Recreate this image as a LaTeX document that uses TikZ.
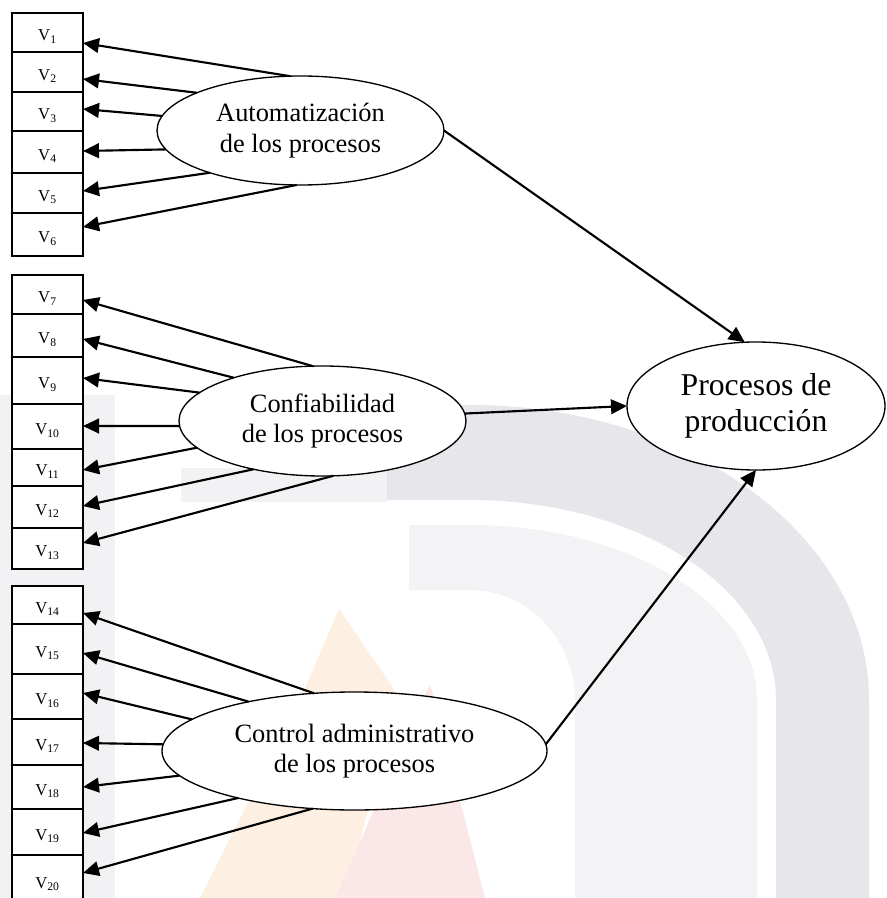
\documentclass[tikz,border=0pt]{standalone}
\usepackage{fontspec}
\setmainfont{Liberation Serif}
\usetikzlibrary{shapes.geometric,arrows.meta,calc}
\definecolor{wmgray}{HTML}{E7E7EB}
\definecolor{wmlight}{HTML}{F3F3F6}
\definecolor{wmside}{HTML}{F2F2F5}
\definecolor{wmorange}{HTML}{FDF0E2}
\definecolor{wmpink}{HTML}{FBE7E8}
% label of an indicator box, set a little below the middle
\newcommand{\vlab}[1]{\raisebox{-3pt}[\height][\depth]{V\textsubscript{#1}}}
\begin{document}
\begin{tikzpicture}[x=0.75pt,y=-0.75pt,
  vbox/.style={draw, rectangle, line width=1.2pt, fill=white, inner sep=0pt,
    outer sep=0pt, minimum width=71*0.75pt, font=\fontsize{12.5}{14}\selectfont},
  latent/.style={ellipse, draw, line width=1pt, fill=white, inner sep=0pt,
    outer sep=0pt, align=center, font=\fontsize{19.8}{23}\selectfont},
  arr/.style={line width=1.6pt, -{Triangle[length=12pt,width=11pt]}}]

\clip (0,0) rectangle (887,898);
\fill[white] (0,0) rectangle (887,898);

% faint watermark in the background
\fill[wmside] (0,395) rectangle (115,898);
\fill[wmside] (181,468) rectangle (387,502);
\fill[wmgray] (387,405) -- (470,405)
  arc[start angle=-90, end angle=0, x radius=399, y radius=295]
  -- (869,898) -- (776,898) -- (776,700)
  arc[start angle=0, end angle=-90, x radius=306, y radius=200]
  -- (387,500) -- cycle;
\fill[wmlight] (409,525) -- (470,525)
  arc[start angle=-90, end angle=0, x radius=287, y radius=175]
  -- (757,898) -- (575,898) -- (575,700)
  arc[start angle=0, end angle=-90, x radius=105, y radius=110]
  -- (409,590) -- cycle;
\fill[wmorange] (339,609) -- (398,695) -- (345,898) -- (200,898) -- (300,700) -- cycle;
\fill[wmpink] (430,684) -- (485,898) -- (335,898) -- cycle;

% indicator boxes V1 ... V20
\foreach \n/\c/\h in {1/32.5/39, 2/72/40, 3/111.5/39, 4/152/42, 5/193/40,
    6/234.5/43, 7/294.5/39, 8/335.5/43, 9/380.5/47, 10/426.5/45,
    11/467.5/37, 12/507/42, 13/548.5/41, 14/605/38, 15/649/50,
    16/696.5/45, 17/742/46, 18/787/44, 19/832/46, 20/880/50}
  \node[vbox, minimum height=\h*0.75pt] (v\n) at (47.5,\c) {\vlab{\n}};

% latent constructs
\node[latent, minimum width=287*0.75pt, minimum height=109*0.75pt] (e1) at (300.5,130.5)
  {Automatización\\de los procesos};
\node[latent, minimum width=287*0.75pt, minimum height=110*0.75pt] (e2) at (322.5,421)
  {Confiabilidad\\de los procesos};
\node[latent, minimum width=385*0.75pt, minimum height=118*0.75pt] (e3) at (354.5,751)
  {Control administrativo\\de los procesos};
\node[latent, font=\fontsize{23.8}{27}\selectfont, minimum width=258*0.75pt,
  minimum height=128*0.75pt] (P) at (756,406) {Procesos de\\producción};

% loadings onto the indicators
\foreach \e/\a/\n/\d in {e1/101/1/10.5, e1/160/2/7, e1/174/3/-2.5, e1/188/4/-1,
    e1/205/5/-2, e1/266/6/-7.5,
    e2/100/7/5.5, e2/154/8/3.5, e2/167/9/-2.5, e2/182/10/-0.5, e2/192/11/2.5,
    e2/215/12/-1, e2/281/13/-5.5,
    e3/125/14/8, e3/155/15/4, e3/169/16/-3.5, e3/178/17/1, e3/188/18/0,
    e3/202/19/1, e3/234/20/-7}
  \draw[arr] (\e.\a) -- ($(v\n.east)+(0,\d)$);

% structural paths
\draw[arr] (e1.east) -- (P.100);
\draw[arr] (e2.3) -- (P.west);
\draw[arr] (e3.2) -- (P.south);
\end{tikzpicture}
\end{document}
